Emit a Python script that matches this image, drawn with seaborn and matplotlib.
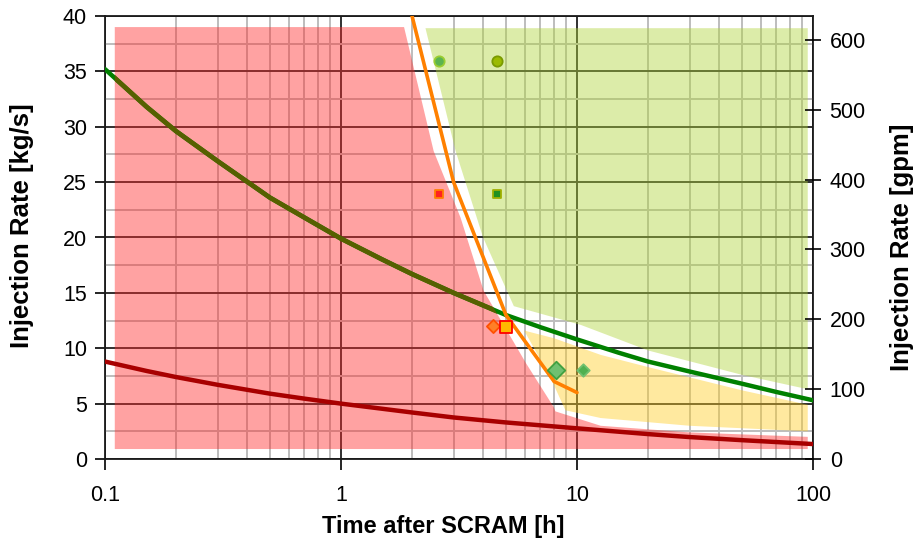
import matplotlib
matplotlib.use("Agg")
import matplotlib.pyplot as plt
import seaborn as sns
import numpy as np
from matplotlib.ticker import FixedLocator, NullFormatter, FuncFormatter

# ---------------- data ----------------
green_t = [0.1, 0.15, 0.2, 0.3, 0.5, 0.7, 1, 1.5, 2, 3, 5, 7, 10, 15, 20, 30, 50, 70, 100]
green_q = [35.2, 31.8, 29.6, 26.9, 23.6, 21.8, 19.9, 18.0, 16.7, 15.0, 13.0, 11.9, 10.8, 9.6, 8.8, 7.9, 6.8, 6.05, 5.3]

red_t = [0.1, 0.15, 0.2, 0.3, 0.5, 0.7, 1, 2, 3, 5, 10, 20, 30, 50, 100]
red_q = [8.8, 7.95, 7.4, 6.7, 5.9, 5.45, 5.0, 4.2, 3.75, 3.3, 2.77, 2.25, 1.98, 1.7, 1.35]

orange_t = [2, 3, 5, 8, 10]
orange_q = [40, 25, 13, 7, 6]

red_zone_t = [0.11, 1.85, 2.47, 3.21, 4.02, 6.1, 7.96, 8.1, 12.6, 30, 95, 95, 0.11]
red_zone_q = [39.0, 39.0, 27.8, 21.8, 15.2, 8.6, 4.7, 4.3, 3.0, 2.4, 2.0, 0.9, 0.9]

green_zone_t = [2.28, 3.06, 4.0, 5.4, 10.4, 20, 50, 95, 95]
green_zone_q = [38.9, 27.8, 20.0, 13.8, 12.1, 9.8, 7.6, 6.3, 38.9]

yellow_zone_t = [5.97, 7.7, 8.93, 12.6, 30, 95, 95, 50, 20, 12.6, 8]
yellow_zone_q = [11.6, 7.4, 4.4, 3.7, 3.0, 2.5, 4.9, 6.2, 8.3, 9.4, 10.9]

pt_t = [2.6, 4.56, 2.61, 4.58, 4.41, 5.01, 8.11, 10.6]
pt_q = [35.9, 35.9, 23.9, 23.9, 12.0, 11.9, 8.0, 8.0]

y_ticks = [0, 5, 10, 15, 20, 25, 30, 35, 40]
gpm_ticks = [0, 100, 200, 300, 400, 500, 600]
x_ticks = [0.1, 1, 10, 100]
x_labels = ["0.1", "1", "10", "100"]
KGS_TO_GPM = 15.85

# ---------------- styles ----------------
pt_styles = [
    dict(marker="o", s=55, fc="#5BB450", ec="#9ACD32"),
    dict(marker="o", s=55, fc="#9BBB00", ec="#7A9A00"),
    dict(marker="s", s=28, fc="#FF2020", ec="#FF8000"),
    dict(marker="s", s=28, fc="#209020", ec="#A0B000"),
    dict(marker="D", s=45, fc="#FF7F27", ec="#FF5000"),
    dict(marker="s", s=75, fc="#FFB800", ec="#FF0000"),
    dict(marker="D", s=80, fc="#70C070", ec="#40A040"),
    dict(marker="D", s=40, fc="#50B050", ec="#70C070"),
]

sns.set_theme(style="ticks")
plt.rcParams["font.family"] = ["Liberation Sans", "DejaVu Sans"]
plt.rcParams["text.color"] = "black"
plt.rcParams["xtick.color"] = "black"
plt.rcParams["ytick.color"] = "black"

fig = plt.figure(figsize=(9.14, 5.49), dpi=100)
ax = fig.add_axes([105 / 914, 1 - 459 / 549, 708 / 914, 443 / 549])
ax.set_xscale("log")
ax.set_xlim(0.1, 100)
ax.set_ylim(0, 40)

# grid
ax.set_axisbelow(True)
ax.yaxis.set_major_locator(FixedLocator(y_ticks))
ax.yaxis.set_minor_locator(FixedLocator(np.arange(2.5, 40, 5)))
ax.xaxis.set_major_locator(FixedLocator(x_ticks))
minor_x = [m * d for d in [0.1, 1, 10] for m in range(2, 10)]
ax.xaxis.set_minor_locator(FixedLocator(minor_x))
ax.xaxis.set_minor_formatter(NullFormatter())
ax.xaxis.set_major_formatter(FuncFormatter(lambda v, p: x_labels[x_ticks.index(v)] if v in x_ticks else ""))
ax.grid(which="minor", color="#BDBDBD", lw=1.4, zorder=0.4)
ax.grid(which="major", color="#303030", lw=1.4, zorder=0.5)

# zones
red_patch = ax.fill(red_zone_t, red_zone_q, color=(1.0, 0.16, 0.16), alpha=0.43, lw=0, zorder=2)[0]
ax.fill(green_zone_t, green_zone_q, color=(0.69, 0.83, 0.22), alpha=0.43, lw=0, zorder=2)
ax.fill(yellow_zone_t, yellow_zone_q, color=(1.0, 0.80, 0.13), alpha=0.43, lw=0, zorder=2)

# green line, tinted olive where it crosses the red zone
sns.lineplot(x=green_t, y=green_q, ax=ax, color="#008000", lw=3.2, zorder=3)
sns.lineplot(x=green_t, y=green_q, ax=ax, color="#566000", lw=3.4, zorder=3.1)
ax.lines[-1].set_clip_path(red_patch)

# red and orange lines
sns.lineplot(x=red_t, y=red_q, ax=ax, color="#A80000", lw=3.2, zorder=3.5)
sns.lineplot(x=orange_t, y=orange_q, ax=ax, color="#FF8000", lw=2.6, zorder=4)

# markers
for t, q, st in zip(pt_t, pt_q, pt_styles):
    sns.scatterplot(x=[t], y=[q], ax=ax, marker=st["marker"], s=st["s"],
                    color=st["fc"], edgecolor=st["ec"], linewidth=1.3, zorder=5)

ax.set_xlim(0.1, 100)
ax.set_ylim(0, 40)
for sp in ax.spines.values():
    sp.set_visible(True)
    sp.set_color("#1A1A1A")
    sp.set_linewidth(1.3)

ax.tick_params(axis="y", which="major", direction="out", length=7, width=1.2,
               labelsize=15.5, pad=6, colors="black")
ax.tick_params(axis="x", which="major", direction="out", length=8, width=1.2,
               labelsize=15.5, pad=11, colors="black")
ax.tick_params(which="minor", length=0)
ax.set_xlabel("")
ax.set_ylabel("")

# right axis in gpm
ax2 = ax.twinx()
ax2.set_ylim(0, 40 * KGS_TO_GPM)
ax2.yaxis.set_major_locator(FixedLocator(gpm_ticks))
ax2.tick_params(axis="y", direction="inout", length=12, width=1.2,
                labelsize=15.5, pad=6, colors="black")
ax2.grid(False)
for sp in ax2.spines.values():
    sp.set_visible(False)

fig.text(22 / 914, 1 - 226 / 549, "Injection Rate [kg/s]", rotation=90,
         ha="center", va="center", fontsize=18.5, fontweight="bold", color="black")
fig.text(902 / 914, 1 - 247 / 549, "Injection Rate [gpm]", rotation=90,
         ha="center", va="center", fontsize=18.5, fontweight="bold", color="black")
fig.text(443 / 914, 1 - 527 / 549, "Time after SCRAM [h]",
         ha="center", va="center", fontsize=17, fontweight="bold", color="black")

fig.savefig("out.png", dpi=100)
